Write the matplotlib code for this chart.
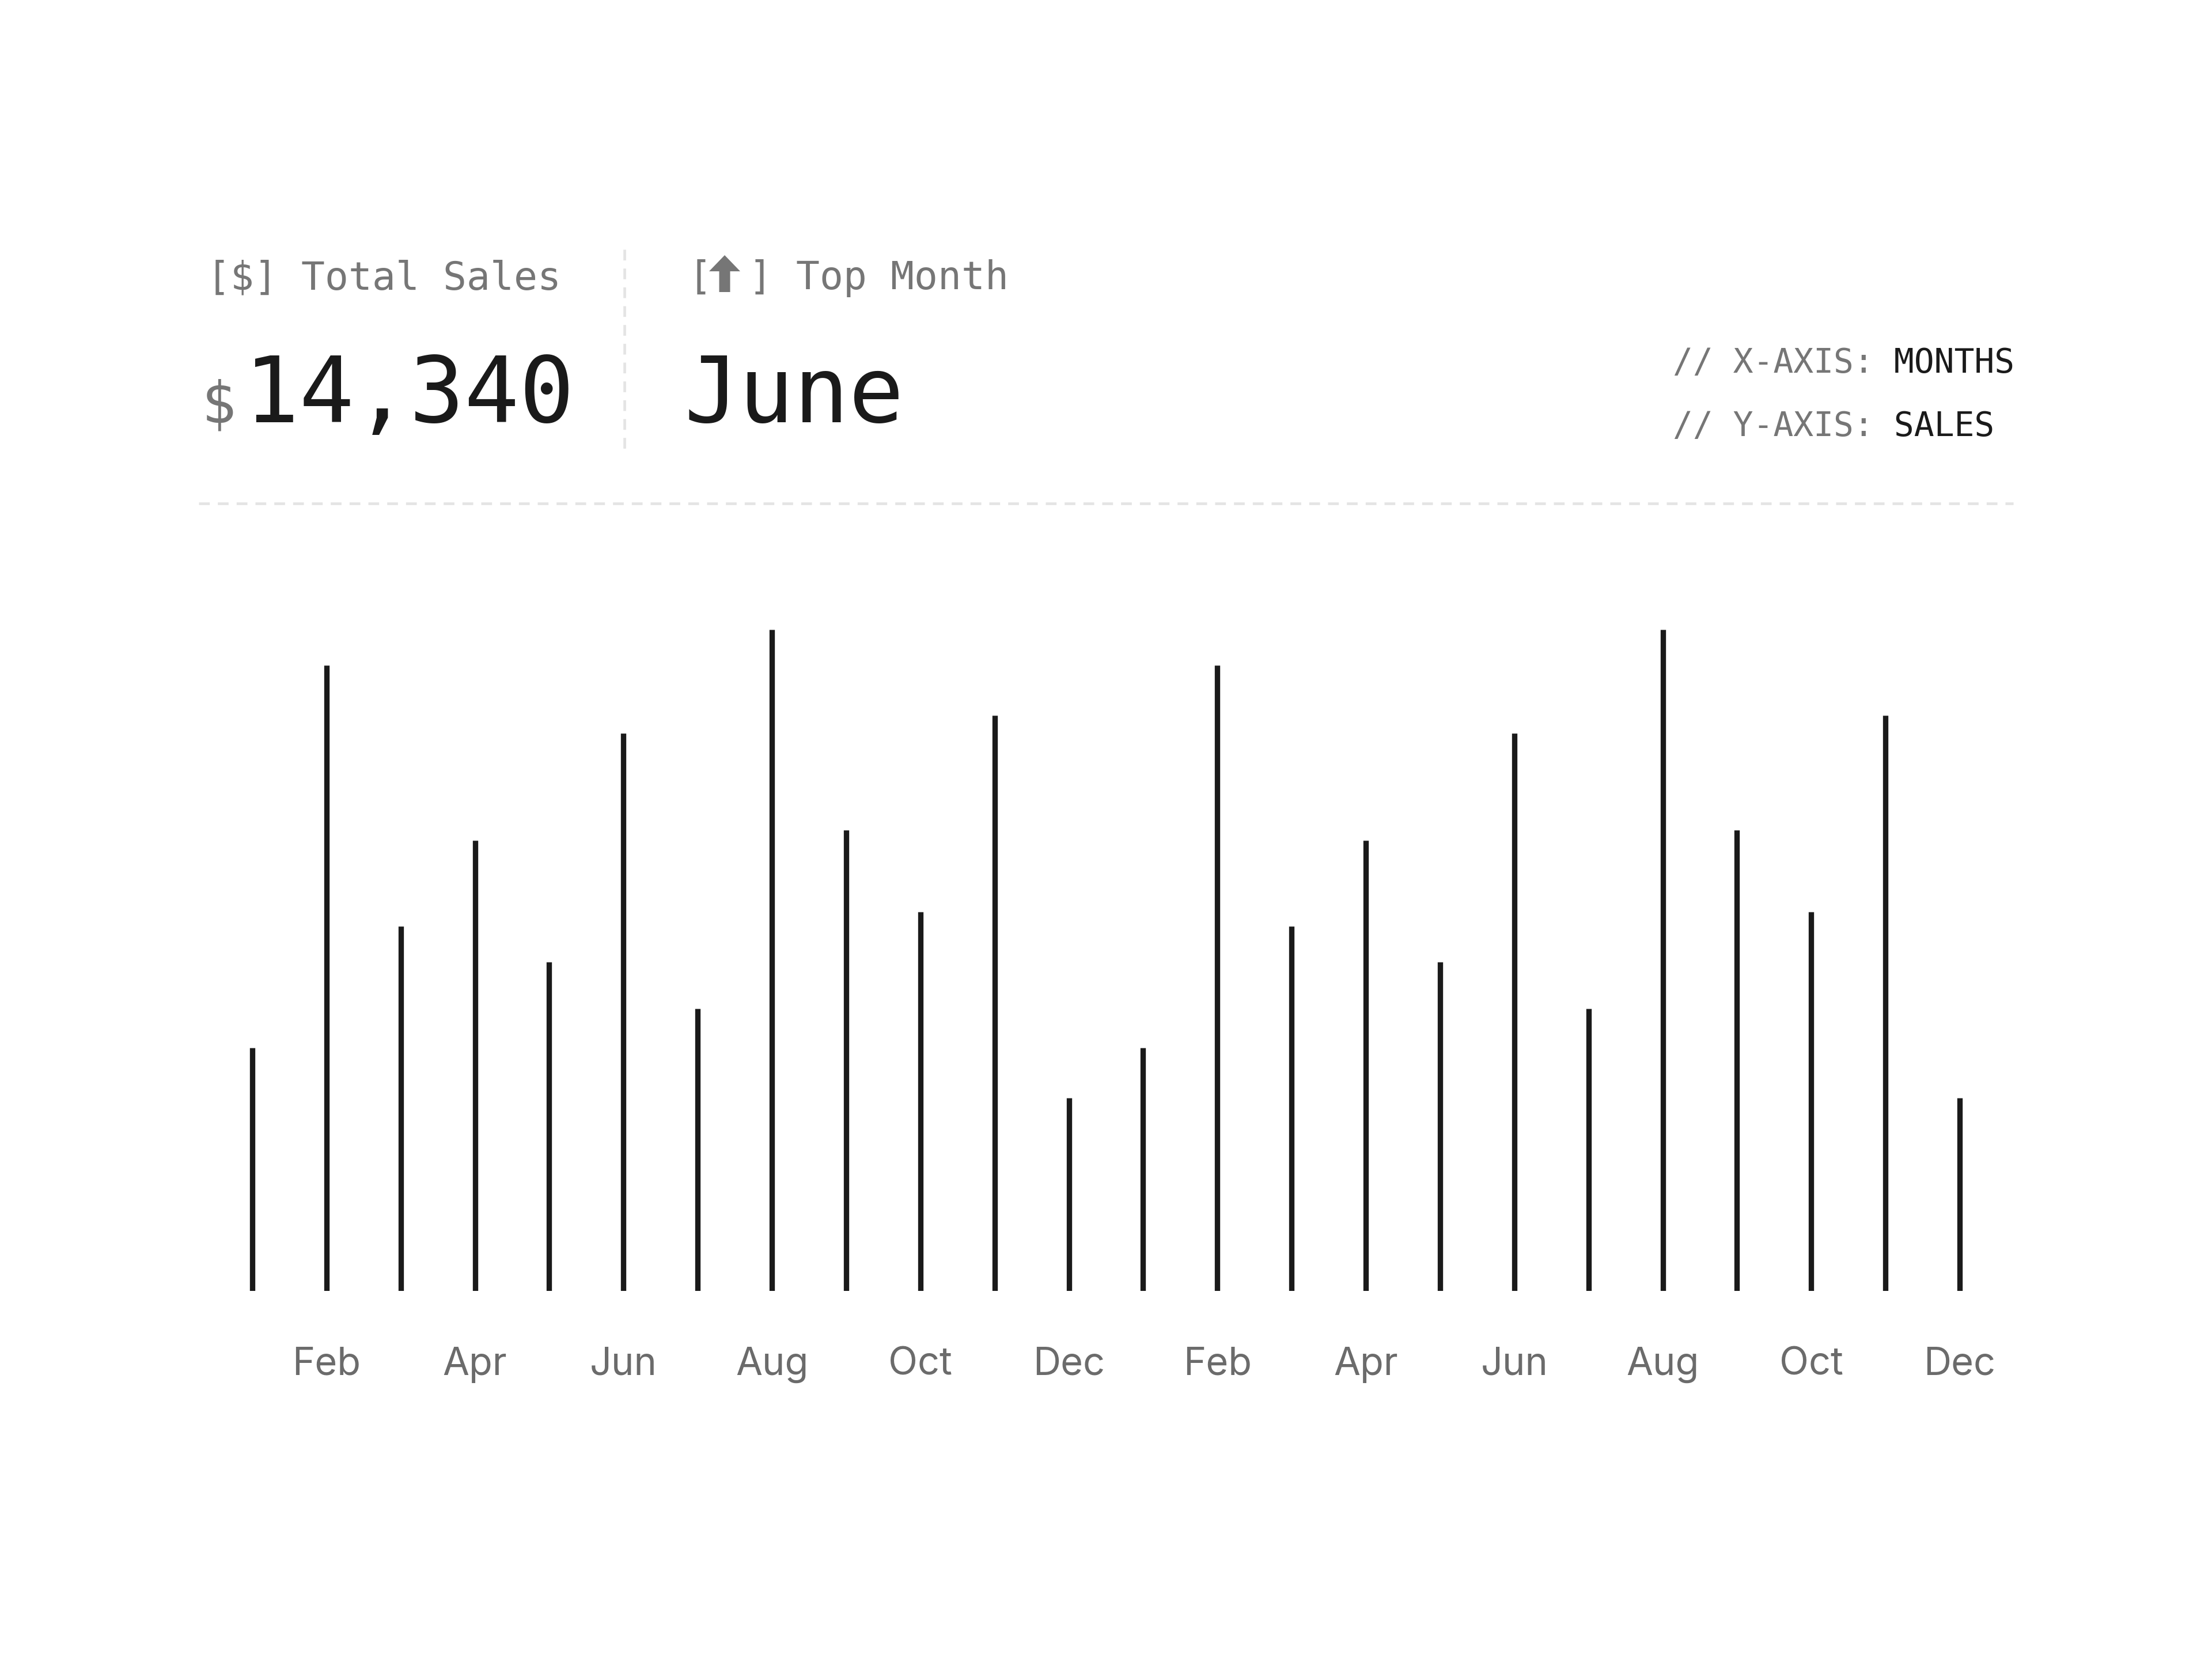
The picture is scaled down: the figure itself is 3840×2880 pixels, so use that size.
"""
Sales stem chart: monthly sales over two years, drawn as thin vertical bars
with a small KPI header above.
"""

import matplotlib.pyplot as plt
from matplotlib.lines import Line2D
from matplotlib.patches import Polygon


# ── DATA ──────────────────────────────────────────────────────────────────────
MONTHS = ["Jan", "Feb", "Mar", "Apr", "May", "Jun",
          "Jul", "Aug", "Sep", "Oct", "Nov", "Dec"]
SALES_Y1 = [680, 1750, 1020, 1260, 920, 1560, 790, 1850, 1290, 1060, 1610, 540]
SALES_Y2 = [680, 1750, 1020, 1260, 920, 1560, 790, 1850, 1290, 1060, 1610, 540]

LABELS = MONTHS + MONTHS
VALUES = SALES_Y1 + SALES_Y2

TOTAL_SALES = "14,340"
TOP_MONTH   = "June"
X_AXIS_NAME = "MONTHS"
Y_AXIS_NAME = "SALES"


# ── STYLE ─────────────────────────────────────────────────────────────────────
W, H   = 3840, 2880
INK    = "#1a1a1a"
GREY   = "#767676"
TICKC  = "#6b6b6b"
RULE   = "#e4e4e4"
MONO   = ["DejaVu Sans Mono", "DejaVu Sans"]
SANS   = ["Inter", "DejaVu Sans"]


def fx(px):
    return px / W


def fy(py):
    return 1 - py / H


fig = plt.figure(figsize=(16, 12), dpi=240)
fig.patch.set_facecolor("white")


# ── CHART ─────────────────────────────────────────────────────────────────────
step  = (3402 - 438) / 23
left  = 438 - step / 2
right = 3402 + step / 2
ax = fig.add_axes([fx(left), fy(2241), (right - left) / W, (2241 - 1093) / H])

xs = list(range(len(VALUES)))
lc = ax.vlines(xs, 0, VALUES, color=INK, linewidth=2.8)
lc.set_capstyle("butt")

ax.set_xlim(-0.5, len(VALUES) - 0.5)
ax.set_ylim(0, max(VALUES))
ax.set_xticks(xs[1::2])
ax.set_xticklabels(LABELS[1::2], fontfamily=SANS)
ax.set_yticks([])
ax.tick_params(axis="x", length=0, pad=29, labelsize=20, labelcolor=TICKC)
for s in ax.spines.values():
    s.set_visible(False)


# ── HEADER ────────────────────────────────────────────────────────────────────
fig.text(fx(359), fy(502), "[$] Total Sales", family=MONO, fontsize=20.4,
         color=GREY, va="baseline")
fig.text(fx(350), fy(733), "$", family=MONO, fontsize=30, color=GREY,
         va="baseline")
fig.text(fx(424), fy(733), TOTAL_SALES, family=MONO, fontsize=47.6, color=INK,
         va="baseline")

fig.add_artist(Line2D([fx(1084), fx(1084)], [fy(433), fy(780)],
                      transform=fig.transFigure, color=RULE, linewidth=1.4,
                      linestyle=(0, (4, 3))))

# "[⬆] Top Month" – brackets as text, the solid arrow drawn as a shape
fig.text(fx(1195), fy(502), "[", family=MONO, fontsize=20.4,
         color=GREY, va="baseline")
fig.text(fx(1300), fy(502), "] Top Month", family=MONO, fontsize=20.4,
         color=GREY, va="baseline")
ax_c, top, neck, bot, head_w, shaft_w = 1258, 443, 471, 507, 54, 19
arrow_px = [(ax_c, top), (ax_c + head_w / 2, neck), (ax_c + shaft_w / 2, neck),
            (ax_c + shaft_w / 2, bot), (ax_c - shaft_w / 2, bot),
            (ax_c - shaft_w / 2, neck), (ax_c - head_w / 2, neck)]
fig.add_artist(Polygon([(fx(x), fy(y)) for x, y in arrow_px], closed=True,
                       transform=fig.transFigure, facecolor=GREY,
                       edgecolor="none"))

fig.text(fx(1188), fy(733), TOP_MONTH, family=MONO, fontsize=47.6, color=INK,
         va="baseline")

renderer = fig.canvas.get_renderer()
for base_y, key, name in [(647, "// X-AXIS:", X_AXIS_NAME),
                          (757, "// Y-AXIS:", Y_AXIS_NAME)]:
    t = fig.text(fx(2904), fy(base_y), key, family=MONO, fontsize=17.4,
                 color=GREY, va="baseline")
    bb = t.get_window_extent(renderer)
    fig.text(bb.x1 / W, fy(base_y), " " + name, family=MONO, fontsize=17.4,
             color=INK, va="baseline")

fig.add_artist(Line2D([fx(345), fx(3495)], [fy(874), fy(874)],
                      transform=fig.transFigure, color=RULE, linewidth=1.4,
                      linestyle=(0, (4, 3))))


fig.savefig("out.png", dpi=240, facecolor="white")
